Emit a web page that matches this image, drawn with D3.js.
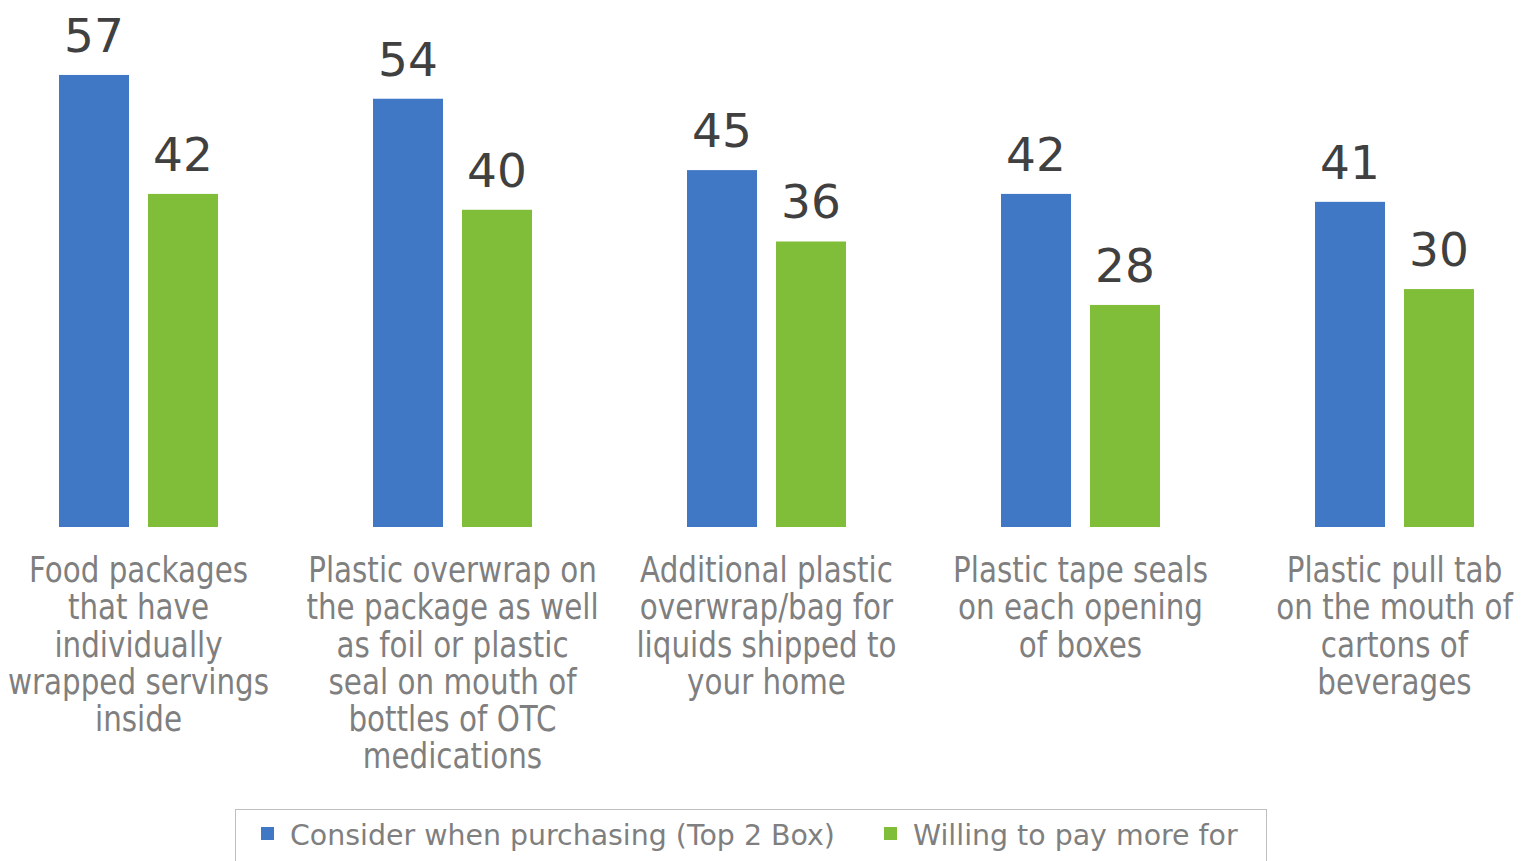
<!DOCTYPE html>
<html>
<head>
<meta charset="utf-8">
<script src="https://cdn.jsdelivr.net/npm/d3@7"></script>
<style>
  body { margin: 0; background: #fff; }
  svg { display: block; }
</style>
</head>
<body>
<script>
// categories (each label split into lines)
var categories = [
  ["Food packages", "that have", "individually", "wrapped servings", "inside"],
  ["Plastic overwrap on", "the package as well", "as foil or plastic", "seal on mouth of", "bottles of OTC", "medications"],
  ["Additional plastic", "overwrap/bag for", "liquids shipped to", "your home"],
  ["Plastic tape seals", "on each opening", "of boxes"],
  ["Plastic pull tab", "on the mouth of", "cartons of", "beverages"]
];
var seriesNames = ["Consider when purchasing (Top 2 Box)", "Willing to pay more for"];
var considerValues = [57, 54, 45, 42, 41];
var willingValues = [42, 40, 36, 28, 30];
var colors = ["#4178c5", "#80bd38"];

var width = 1528,
    height = 861,
    baseline = 527;

var svg = d3.select("body")
    .append("svg")
    .attr("width", width)
    .attr("height", height);

//scales
var x = d3.scaleBand()
    .domain(d3.range(categories.length))
    .range([-18.5, 1551.5]);

var xInner = d3.scaleBand()
    .domain([0, 1])
    .range([x.bandwidth() / 2 - 79.5, x.bandwidth() / 2 + 79.5])
    .paddingInner(19 / 89);

var y = d3.scaleLinear()
    .domain([0, 66.45])
    .range([baseline, 0]);

var data = categories.map(function(c, i){
    return { i: i, vals: [considerValues[i], willingValues[i]] };
});

var groups = svg.selectAll(".cat")
    .data(data)
    .enter()
    .append("g")
    .attr("class", "cat")
    .attr("transform", function(d){ return "translate(" + x(d.i) + ",0)"; });

groups.selectAll("rect")
    .data(function(d){ return d.vals; })
    .enter()
    .append("rect")
    .attr("x", function(v, j){ return xInner(j); })
    .attr("y", function(v){ return y(v); })
    .attr("width", xInner.bandwidth())
    .attr("height", function(v){ return baseline - y(v); })
    .attr("fill", function(v, j){ return colors[j]; });

//value labels
groups.selectAll(".val")
    .data(function(d){ return d.vals; })
    .enter()
    .append("text")
    .attr("class", "val")
    .attr("x", function(v, j){ return xInner(j) + xInner.bandwidth() / 2; })
    .attr("y", function(v){ return y(v) - 23; })
    .attr("text-anchor", "middle")
    .attr("font-family", "DejaVu Sans, Verdana, sans-serif")
    .attr("font-size", 47)
    .attr("fill", "#404040")
    .text(function(v){ return v; });

//category labels (condensed look)
var labels = svg.selectAll(".catLabel")
    .data(categories)
    .enter()
    .append("g")
    .attr("class", "catLabel")
    .attr("transform", function(d, i){
        return "translate(" + (x(i) + x.bandwidth() / 2) + ",582) scale(0.84,1)";
    })
    .append("text")
    .attr("text-anchor", "middle")
    .attr("font-family", "DejaVu Sans, Verdana, sans-serif")
    .attr("font-size", 35)
    .attr("fill", "#7f7f7f");

labels.selectAll("tspan")
    .data(function(d){ return d; })
    .enter()
    .append("tspan")
    .attr("x", 0)
    .attr("y", function(t, k){ return k * 37.3; })
    .text(function(t){ return t; });

//legend
var legend = svg.append("g").attr("class", "legend");

legend.append("rect")
    .attr("x", 235.5)
    .attr("y", 809.5)
    .attr("width", 1031)
    .attr("height", 70)
    .attr("fill", "none")
    .attr("stroke", "#bfbfbf")
    .attr("stroke-width", 1);

var legendX = [261, 884];
var items = legend.selectAll(".item")
    .data(seriesNames)
    .enter()
    .append("g")
    .attr("class", "item")
    .attr("transform", function(d, i){ return "translate(" + legendX[i] + ",0)"; });

items.append("rect")
    .attr("x", 0)
    .attr("y", 827)
    .attr("width", 13)
    .attr("height", 13)
    .attr("fill", function(d, i){ return colors[i]; });

items.append("g")
    .attr("transform", "translate(29,845) scale(0.98,1)")
    .append("text")
    .attr("font-family", "DejaVu Sans, Verdana, sans-serif")
    .attr("font-size", 29)
    .attr("fill", "#7f7f7f")
    .text(function(d){ return d; });
</script>
</body>
</html>
